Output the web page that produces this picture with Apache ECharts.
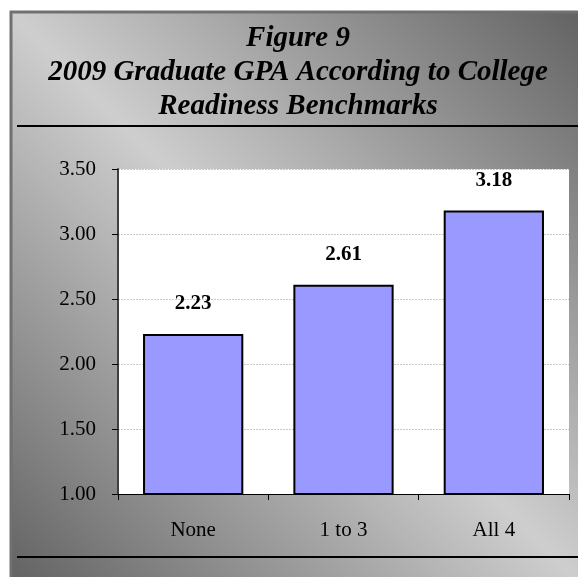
<!DOCTYPE html>
<html>
<head>
<meta charset="utf-8">
<script src="https://cdn.jsdelivr.net/npm/echarts@6/dist/echarts.min.js"></script>
<style>
  html, body { margin: 0; padding: 0; background: #ffffff; }
  #chart { width: 578px; height: 577px; }
</style>
</head>
<body>
<div id="chart"></div>
<script>
// Benchmark groups and mean GPA for 2009 graduates
const categories = ['None', '1 to 3', 'All 4'];
const gpaValues = [2.23, 2.61, 3.18];
const titleLines = ['Figure 9', '2009 Graduate GPA According to College', 'Readiness Benchmarks'];

const serif = '"Liberation Serif", "Times New Roman", serif';
const chart = echarts.init(document.getElementById('chart'), null, { renderer: 'canvas' });

chart.setOption({
  animation: false,
  graphic: [
    {
      type: 'rect', z: -10, silent: true,
      shape: { x: 11, y: 12, width: 600, height: 600 },
      style: {
        fill: new echarts.graphic.LinearGradient(1, 0, 0, 1, [
          { offset: 0, color: '#5c5c5c' },
          { offset: 0.5, color: '#cecece' },
          { offset: 1, color: '#5c5c5c' }
        ]),
        stroke: '#707070', lineWidth: 3
      }
    },
    {
      type: 'line', silent: true,
      shape: { x1: 17, y1: 126, x2: 578, y2: 126 },
      style: { stroke: '#000000', lineWidth: 2 }
    },
    {
      type: 'line', silent: true,
      shape: { x1: 17, y1: 557, x2: 578, y2: 557 },
      style: { stroke: '#000000', lineWidth: 2 }
    },
    {
      type: 'text', silent: true,
      x: 298, y: 22,
      style: {
        text: titleLines.join('\n'),
        align: 'center',
        verticalAlign: 'top',
        font: 'italic bold 29px ' + serif,
        lineHeight: 34,
        fill: '#000000'
      }
    }
  ],
  grid: { left: 118, right: 9, top: 169, bottom: 83, containLabel: false,
          show: true, backgroundColor: '#ffffff', borderWidth: 0 },
  xAxis: {
    type: 'category',
    data: categories,
    boundaryGap: true,
    axisLine: { show: true, lineStyle: { color: '#000000', width: 1 } },
    axisTick: { show: true, length: 6, alignWithLabel: false, lineStyle: { color: '#000000' } },
    axisLabel: { margin: 26, fontFamily: serif, fontSize: 21, color: '#000000' }
  },
  yAxis: {
    type: 'value',
    min: 1.0, max: 3.5, interval: 0.5,
    axisLine: { show: true, lineStyle: { color: '#404040', width: 2 } },
    axisTick: { show: true, inside: false, length: 6, lineStyle: { color: '#000000' } },
    axisLabel: {
      margin: 22, fontFamily: serif, fontSize: 21, color: '#000000',
      formatter: v => v.toFixed(2)
    },
    splitLine: { show: true, lineStyle: { color: '#c8c8c8', type: [2, 1], width: 1 } }
  },
  series: [{
    type: 'bar',
    data: gpaValues,
    barWidth: '66.7%',
    itemStyle: { color: '#9999ff', borderColor: '#000000', borderWidth: 2 },
    label: {
      show: true, position: 'top', distance: 20,
      fontFamily: serif, fontWeight: 'bold', fontSize: 21, color: '#000000',
      formatter: p => p.value.toFixed(2)
    }
  }]
});
</script>
</body>
</html>
